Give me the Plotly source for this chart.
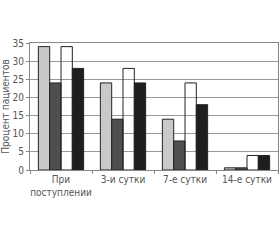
import plotly.graph_objects as go

categories = ["При<br>поступлении", "3-и сутки", "7-е сутки", "14-е сутки"]
series_a = [34, 24, 14, 0.6]   # light grey
series_b = [24, 14, 8, 0.6]    # dark grey
series_c = [34, 28, 24, 4]     # white
series_d = [28, 24, 18, 4]     # black
y_ticks = [0, 5, 10, 15, 20, 25, 30, 35]

fills = ["#c9c9c9", "#4f4f51", "rgba(255,255,255,0)", "#1f1d1e"]
fig = go.Figure()
for vals, col in zip([series_a, series_b, series_c, series_d], fills):
    fig.add_trace(go.Bar(x=categories, y=vals, marker=dict(color=col, line=dict(color="#222", width=1)),
                         showlegend=False))

fnt = "Liberation Sans Narrow, DejaVu Sans Condensed, Liberation Sans"
fig.update_layout(
    width=280, height=240,
    margin=dict(l=30, r=2, t=43, b=70),
    paper_bgcolor="white", plot_bgcolor="white",
    barmode="group", bargap=0.27, bargroupgap=0,
    font=dict(family=fnt, size=10, color="#555"),
    xaxis=dict(showline=True, linecolor="#888", linewidth=1, mirror=True,
               ticks="outside", tickson="boundaries", ticklen=3, tickcolor="#888",
               tickangle=0, tickfont=dict(family=fnt, size=10, color="#555")),
    yaxis=dict(range=[0, 35], tickvals=y_ticks, showgrid=True, gridcolor="#999", gridwidth=1,
               showline=True, linecolor="#888", linewidth=1, mirror=True,
               ticks="outside", ticklen=3, tickcolor="#888", zeroline=False,
               title=dict(text="Процент пациентов", font=dict(family=fnt, size=10, color="#555"), standoff=4),
               tickfont=dict(family=fnt, size=10, color="#555")),
)
fig.write_html("out.html")
